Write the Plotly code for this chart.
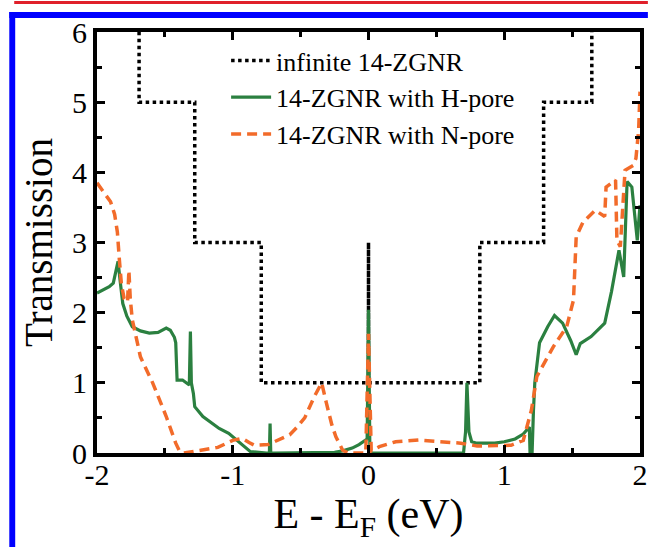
import plotly.graph_objects as go

# ---- data ----
e_inf = [-2, -1.69, -1.69, -1.28, -1.28, -0.79, -0.79, 0, 0, 0, 0.82, 0.82, 1.29, 1.29, 1.645, 1.645, 2]
t_inf = [7, 7, 5, 5, 3, 3, 1, 1, 3, 1, 1, 3, 3, 5, 5, 7, 7]

e_h = [-2.0, -1.95, -1.91, -1.88, -1.845, -1.83, -1.81, -1.78, -1.74, -1.68, -1.615, -1.55, -1.49,
       -1.46, -1.43, -1.42, -1.41, -1.37, -1.33, -1.32, -1.312, -1.305, -1.29, -1.28, -1.22, -1.16,
       -1.10, -1.03, -0.97, -0.94, -0.90, -0.87, -0.75, -0.73, -0.725, -0.72, -0.70, -0.40, -0.25,
       -0.19, -0.12, -0.07, -0.03, -0.01, 0.0, 0.01, 0.02, 0.60, 0.70, 0.715, 0.725, 0.74, 0.76,
       0.80, 0.85, 0.93, 1.0, 1.08, 1.14, 1.185, 1.19, 1.205, 1.215, 1.225, 1.26, 1.32, 1.37, 1.43,
       1.49, 1.53, 1.56, 1.64, 1.74, 1.79, 1.845, 1.88, 1.905, 1.94, 1.98, 2.0]
t_h = [2.28, 2.33, 2.37, 2.42, 2.73, 2.46, 2.13, 1.95, 1.80, 1.74, 1.71, 1.72, 1.78,
       1.75, 1.65, 1.57, 1.04, 1.04, 0.98, 0.97, 1.73, 1.0, 0.85, 0.66, 0.52, 0.43,
       0.35, 0.28, 0.18, 0.14, 0.06, 0.02, 0.0, 0.0, 0.42, 0.0, 0.0, 0.0, 0.01,
       0.03, 0.07, 0.12, 0.17, 0.20, 2.04, 0.05, 0.0, 0.0, 0.0, 0.3, 1.0, 0.3, 0.16,
       0.14, 0.14, 0.14, 0.16, 0.20, 0.27, 0.37, 0.0, 0.0, 0.6, 1.0, 1.57, 1.80, 1.96, 1.85,
       1.60, 1.40, 1.56, 1.66, 1.85, 2.3, 2.89, 2.51, 3.87, 3.79, 3.03, 3.53]

e_n = [-2.0, -1.95, -1.9, -1.87, -1.85, -1.835, -1.82, -1.80, -1.775, -1.765, -1.755, -1.74,
       -1.68, -1.59, -1.49, -1.42, -1.39, -1.36, -1.25, -1.11, -1.0, -0.93, -0.88, -0.84, -0.74,
       -0.65, -0.58, -0.53, -0.47, -0.40, -0.345, -0.31, -0.27, -0.24, -0.19, -0.15, -0.02, 0.0,
       0.02, 0.08, 0.2, 0.37, 0.56, 0.68, 0.8, 0.93, 1.05, 1.14, 1.2, 1.24, 1.3, 1.36, 1.46,
       1.51, 1.53, 1.58, 1.67, 1.74, 1.75, 1.82, 1.83, 1.855, 1.89, 1.95, 1.97, 1.99, 2.0]
t_n = [3.85, 3.72, 3.58, 3.4, 3.15, 2.75, 2.4, 2.2, 2.15, 2.6, 2.2, 1.9,
       1.37, 1.0, 0.52, 0.14, 0.02, 0.0, 0.04, 0.08, 0.18, 0.21, 0.15, 0.11, 0.12,
       0.20, 0.26, 0.36, 0.5, 0.8, 1.0, 0.71, 0.4, 0.23, 0.04, 0.0, 0.0, 1.7,
       0.03, 0.09, 0.16, 0.185, 0.16, 0.14, 0.10, 0.11, 0.11, 0.18, 0.61, 1.09, 1.3, 1.51, 1.8,
       2.18, 3.08, 3.29, 3.46, 3.37, 3.79, 3.89, 3.03, 2.94, 4.03, 4.1, 4.2, 4.6, 5.15]

names = ["infinite 14-ZGNR", "14-ZGNR with H-pore", "14-ZGNR with N-pore"]
x_ticks = [-2, -1, 0, 1, 2]
y_ticks = [0, 1, 2, 3, 4, 5, 6]

FONT = "'Liberation Serif', 'Times New Roman', Times, 'DejaVu Serif', serif"
GREEN = "#2b8040"
ORANGE = "#f26b2a"

fig = go.Figure()
fig.add_trace(go.Scatter(x=e_inf, y=t_inf, mode="lines", name=names[0],
                         line=dict(color="black", width=3.5, dash="dot")))
fig.add_trace(go.Scatter(x=e_h, y=t_h, mode="lines", name=names[1],
                         line=dict(color=GREEN, width=3.2)))
fig.add_trace(go.Scatter(x=e_n, y=t_n, mode="lines", name=names[2],
                         line=dict(color=ORANGE, width=3.5, dash="10px,6px")))

W, H = 656, 547
L, R, T, B = 97, 8, 32, 94
pw, ph = W - L - R, H - T - B


def px(x):
    return (x - L) / pw


def py(y):
    return (H - B - y) / ph


shapes = [
    dict(type="rect", xref="paper", yref="paper", x0=px(8), x1=px(14), y0=py(547), y1=py(12),
         fillcolor="#0000ff", line=dict(width=0), layer="above"),
    dict(type="rect", xref="paper", yref="paper", x0=px(8), x1=px(656), y0=py(18), y1=py(12),
         fillcolor="#0000ff", line=dict(width=0), layer="above"),
    dict(type="rect", xref="paper", yref="paper", x0=px(13), x1=px(656), y0=py(4), y1=py(1),
         fillcolor="#e0202a", line=dict(width=0), layer="above"),
]

axis_common = dict(showline=True, linewidth=4, linecolor="black", mirror="allticks",
                   ticks="inside", ticklen=8, tickwidth=3, tickcolor="black",
                   showgrid=False, zeroline=False,
                   tickfont=dict(family=FONT, size=30, color="black"),
                   minor=dict(ticks="inside", ticklen=5, tickwidth=3, tickcolor="black", dtick=0.5))

fig.update_layout(
    width=W, height=H,
    margin=dict(l=L, r=R, t=T, b=B),
    plot_bgcolor="white", paper_bgcolor="white",
    font=dict(family=FONT, color="black"),
    showlegend=True,
    legend=dict(x=px(228), y=py(37), xanchor="left", yanchor="top",
                bgcolor="rgba(0,0,0,0)", borderwidth=0,
                font=dict(family=FONT, size=26, color="black"),
                tracegroupgap=0, itemwidth=40),
    shapes=shapes,
    xaxis=dict(range=[-2, 2], tickvals=x_ticks, ticktext=[str(v) for v in x_ticks],
               ticklabelstandoff=-8,
               title=dict(text="E - E<sub>F</sub> (eV)", font=dict(family=FONT, size=42, color="black"),
                          standoff=0),
               **axis_common),
    yaxis=dict(range=[0, 6], tickvals=y_ticks, ticktext=[str(v) for v in y_ticks],
               title=dict(text="Transmission", font=dict(family=FONT, size=39, color="black"),
                          standoff=8),
               **axis_common),
)

fig.write_html("out.html")
